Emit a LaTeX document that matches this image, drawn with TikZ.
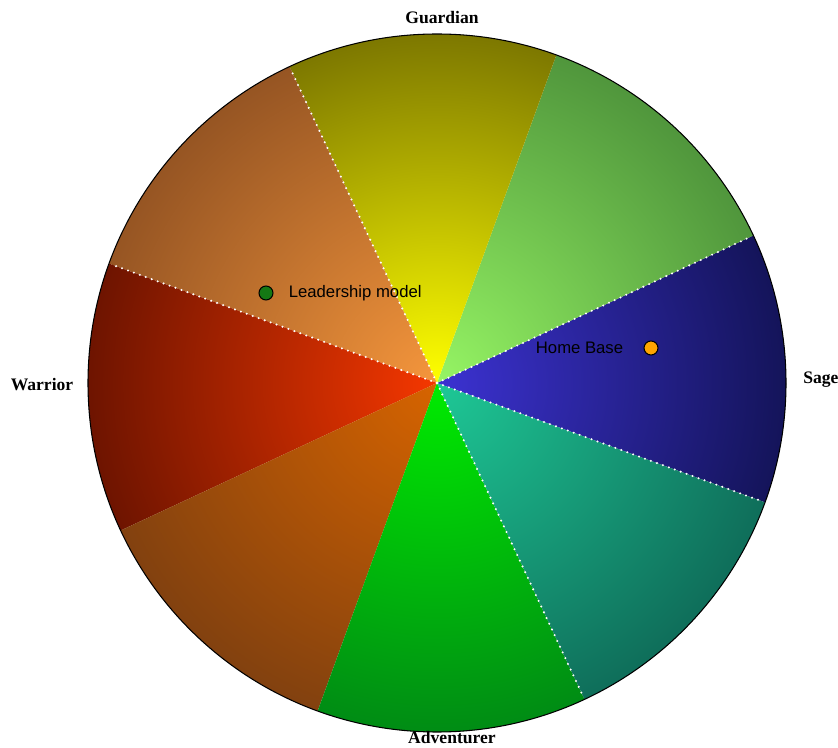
\documentclass[tikz,border=0pt]{standalone}
\usepackage{fontspec}
\setmainfont{Liberation Serif}
\setsansfont{Liberation Sans}
\usepackage{xcolor}
\usepackage{tikz}
\usetikzlibrary{calc,positioning}

\definecolor{sageIn}{RGB}{60,50,210}
\definecolor{sageOut}{RGB}{20,20,90}
\definecolor{limeIn}{RGB}{150,245,100}
\definecolor{limeOut}{RGB}{80,150,60}
\definecolor{guardIn}{RGB}{255,255,0}
\definecolor{guardOut}{RGB}{125,120,0}
\definecolor{amberIn}{RGB}{245,150,60}
\definecolor{amberOut}{RGB}{150,85,35}
\definecolor{warIn}{RGB}{245,55,0}
\definecolor{warOut}{RGB}{110,20,0}
\definecolor{rustIn}{RGB}{215,100,0}
\definecolor{rustOut}{RGB}{130,65,15}
\definecolor{advIn}{RGB}{0,235,0}
\definecolor{advOut}{RGB}{0,140,20}
\definecolor{tealIn}{RGB}{30,200,150}
\definecolor{tealOut}{RGB}{15,110,90}
\definecolor{leaderGreen}{RGB}{20,120,20}
\definecolor{homeOrange}{RGB}{255,165,0}

\tikzset{
    catlabel/.style={inner sep=0pt, font=\fontsize{10}{12}\selectfont\bfseries},
    marker/.style={circle, draw=black, line width=0.6pt, minimum size=0.28cm, inner sep=0pt},
    marktext/.style={inner sep=0pt, font=\sffamily\fontsize{9.5}{11}\selectfont}
}

\begin{document}
\begin{tikzpicture}[x=0.02cm, y=0.02cm]
    \useasboundingbox (0,0) rectangle (838,747);
    \coordinate (c) at (437,364);

    % Sectors
    \foreach \a/\ci/\co in {-20/sageIn/sageOut, 25/limeIn/limeOut,
        70/guardIn/guardOut, 115/amberIn/amberOut, 160/warIn/warOut,
        205/rustIn/rustOut, 250/advIn/advOut, 295/tealIn/tealOut} {
        \begin{scope}[shift={(c)}]
            \clip (0,0) -- (\a:349) arc[start angle=\a, delta angle=45, radius=349] -- cycle;
            \shade[inner color=\ci, outer color=\co] (0,0) circle (349);
        \end{scope}
    }

    % Dotted borders
    \foreach \b in {25,115,160,295,340} {
        \draw[white, line width=1.3pt, line cap=round, dash pattern=on 0pt off 3.6pt, shift={(c)}]
            (0,0) -- (\b:347);
    }
    \draw[black, line width=0.6pt] (c) circle (349);

    % Labels
    \node[catlabel] (guardian) at (442,729) {Guardian};
    \node[catlabel, anchor=west] (sage) at (803,367) {Sage};
    \node[catlabel] (warrior) at (42,362) {Warrior};
    \node[catlabel] (adventurer) at (452,9) {Adventurer};

    % Markers
    \node[marker, fill=leaderGreen] (leader) at (266,454) {};
    \node[marktext, right=0.3cm of leader] (leadertext) {Leadership model};
    \node[marker, fill=homeOrange] (home) at (651,399) {};
    \node[marktext, left=0.4cm of home] (hometext) {Home Base};
\end{tikzpicture}
\end{document}
